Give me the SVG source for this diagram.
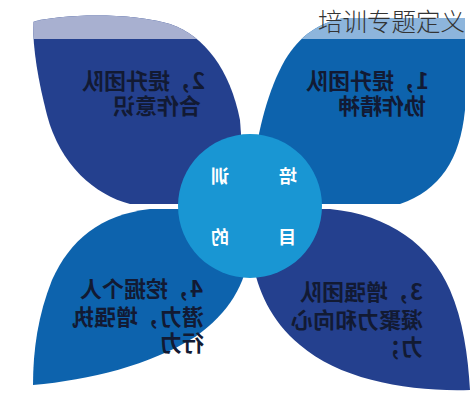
<svg xmlns="http://www.w3.org/2000/svg" width="472" height="400" viewBox="0 0 472 400">
  <style>
    .navy { fill: #24408e; }
    .blue { fill: #0d63ad; }
    .lt { font-family: "Noto Sans CJK SC", "Noto Sans", sans-serif; font-size: 22px; font-weight: bold; fill: #121a33; }
    .ct { font-family: "Noto Sans CJK SC", "Noto Sans", sans-serif; font-size: 18px; font-weight: bold; fill: #ffffff; text-anchor: middle; }
    .title { font-family: "Noto Sans CJK SC", "Noto Sans", sans-serif; font-size: 24.5px; font-weight: 300; fill: #333333; }
  </style>
  <defs>
    <path id="p-tl" d="M33,22 C60,14 130,12 170,24 C205,36 230,70 240,120 L246,204 L130,204 C95,195 60,165 47,115 C38,80 33,50 33,22 Z"/>
    <path id="p-tr" d="M465,18 L345,18 C320,22 300,35 285,60 C268,90 258,130 253,170 L252,204 L400,204 C440,190 460,160 465,110 Z"/>
    <clipPath id="c-tl"><use href="#p-tl"/></clipPath>
    <clipPath id="c-tr"><use href="#p-tr"/></clipPath>
  </defs>
  <rect width="472" height="400" fill="#ffffff"/>

  <g id="leaf2">
    <use href="#p-tl" class="navy"/>
    <rect x="0" y="0" width="260" height="39" fill="#a8b0d0" clip-path="url(#c-tl)"/>
    <text class="lt" transform="matrix(-1 0 0 1 205 0)" y="89">2，提升团队</text>
    <text class="lt" transform="matrix(-1 0 0 1 201 0)" y="114">合作意识</text>
  </g>

  <g id="leaf1">
    <use href="#p-tr" class="blue"/>
    <rect x="240" y="0" width="232" height="39" fill="#8db5dc" clip-path="url(#c-tr)"/>
    <text class="lt" transform="matrix(-1 0 0 1 429 0)" y="89">1，提升团队</text>
    <text class="lt" transform="matrix(-1 0 0 1 426 0)" y="114">协作精神</text>
  </g>

  <g id="leaf4">
    <path class="blue" d="M250,209 L150,209 C100,215 70,240 52,280 C38,315 33,350 33,385 C90,380 150,365 195,337 C230,312 245,285 250,250 Z"/>
    <text class="lt" transform="matrix(-1 0 0 1 203 0)" y="297">4，挖掘个人</text>
    <text class="lt" transform="matrix(-1 0 0 1 204 0)" y="325">潜力，增强执</text>
    <text class="lt" transform="matrix(-1 0 0 1 204 0)" y="351">行力</text>
  </g>

  <g id="leaf3">
    <path class="navy" d="M250,209 L330,209 C390,215 430,245 450,290 C463,320 468,355 470,390 C410,392 340,380 300,345 C270,320 258,290 252,260 Z"/>
    <text class="lt" transform="matrix(-1 0 0 1 423 0)" y="300">3，增强团队</text>
    <text class="lt" transform="matrix(-1 0 0 1 423 0)" y="328">凝聚力和向心</text>
    <text class="lt" transform="matrix(-1 0 0 1 423 0)" y="355">力；</text>
  </g>

  <g id="center">
    <circle cx="250" cy="206" r="72" fill="#1996d3"/>
    <text class="ct" transform="matrix(-1 0 0 1 288 0)" y="183">培</text>
    <text class="ct" transform="matrix(-1 0 0 1 220 0)" y="183">训</text>
    <text class="ct" transform="matrix(-1 0 0 1 287 0)" y="244">目</text>
    <text class="ct" transform="matrix(-1 0 0 1 220 0)" y="244">的</text>
  </g>

  <g id="title">
    <text class="title" x="318" y="31">培训专题定义</text>
  </g>
</svg>
